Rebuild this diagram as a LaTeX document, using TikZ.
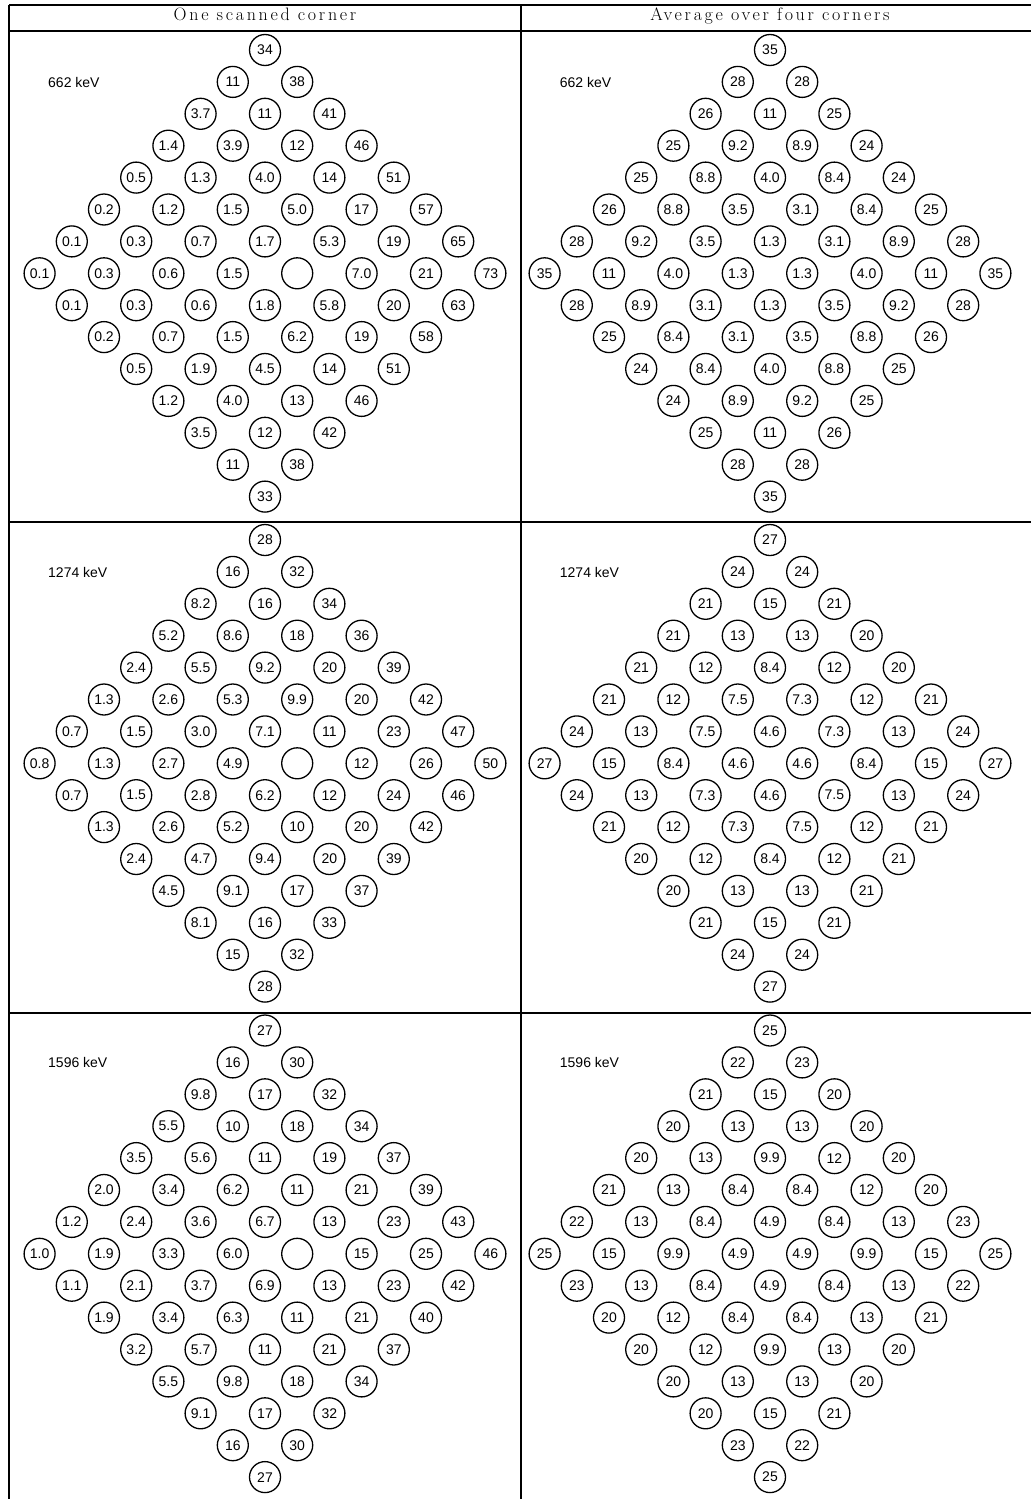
\documentclass[tikz,border=0pt]{standalone}
\usepackage{fontspec}
\setmainfont{Latin Modern Roman}
\newfontfamily\numfont{Liberation Sans}
\newfontfamily\hdrfont[LetterSpace=15]{Latin Modern Roman}
\tikzset{
  dot/.style={circle,draw,line width=1.3pt,minimum size=31pt,inner sep=0pt,
    font=\numfont\fontsize{14}{14}\selectfont},
  rulel/.style={line width=1.6pt},
  lab/.style={anchor=west,inner sep=0pt,font=\numfont\fontsize{14}{14}\selectfont},
  hdr/.style={anchor=base,inner sep=0pt,font=\hdrfont\fontsize{18}{18}\selectfont}
}
\newcommand\drawdiamondcell[4]{%
  \foreach \rw [count=\r] in {#4} {
    \pgfmathtruncatemacro\n{\r<=8 ? \r : 16-\r}
    \foreach \v [count=\c] in \rw {
      \node[dot] (#1-\r-\c) at ({#2+(\c-(\n+1)/2)*64.4},{#3+(\r-1)*31.9}) {\v};
    }
  }%
}
\begin{document}
\begin{tikzpicture}[x=1pt,y=-1pt]
\useasboundingbox (0,0) rectangle (1031,1499);
% table rules
\draw[rulel] (9,5) -- (1031,5);
\draw[rulel] (9,31) -- (1031,31);
\draw[rulel] (9,521.7) -- (1031,521.7);
\draw[rulel] (9,1012.7) -- (1031,1012.7);
\draw[rulel] (9,5) -- (9,1499);
\draw[rulel] (520.7,5) -- (520.7,1499);
% headers
\node[hdr] (h1) at (265,20.7) {One scanned corner};
\node[hdr] (h2) at (770,20.7) {Average over four corners};
% labels
\node[lab] (l1) at (48,82) {662 keV};
\node[lab] (l2) at (48,572) {1274 keV};
\node[lab] (l3) at (48,1062.5) {1596 keV};
\node[lab] (r1) at (559.7,82) {662 keV};
\node[lab] (r2) at (559.7,572) {1274 keV};
\node[lab] (r3) at (559.7,1062.5) {1596 keV};
% left column
\drawdiamondcell{a}{265}{50}{{34},{11,38},{3.7,11,41},{1.4,3.9,12,46},{0.5,1.3,4.0,14,51},
 {0.2,1.2,1.5,5.0,17,57},{0.1,0.3,0.7,1.7,5.3,19,65},{0.1,0.3,0.6,1.5,{},7.0,21,73},
 {0.1,0.3,0.6,1.8,5.8,20,63},{0.2,0.7,1.5,6.2,19,58},{0.5,1.9,4.5,14,51},{1.2,4.0,13,46},
 {3.5,12,42},{11,38},{33}}
\drawdiamondcell{b}{265}{540}{{28},{16,32},{8.2,16,34},{5.2,8.6,18,36},{2.4,5.5,9.2,20,39},
 {1.3,2.6,5.3,9.9,20,42},{0.7,1.5,3.0,7.1,11,23,47},{0.8,1.3,2.7,4.9,{},12,26,50},
 {0.7,1.5,2.8,6.2,12,24,46},{1.3,2.6,5.2,10,20,42},{2.4,4.7,9.4,20,39},{4.5,9.1,17,37},
 {8.1,16,33},{15,32},{28}}
\drawdiamondcell{c}{265}{1030.5}{{27},{16,30},{9.8,17,32},{5.5,10,18,34},{3.5,5.6,11,19,37},
 {2.0,3.4,6.2,11,21,39},{1.2,2.4,3.6,6.7,13,23,43},{1.0,1.9,3.3,6.0,{},15,25,46},
 {1.1,2.1,3.7,6.9,13,23,42},{1.9,3.4,6.3,11,21,40},{3.2,5.7,11,21,37},{5.5,9.8,18,34},
 {9.1,17,32},{16,30},{27}}
% right column
\drawdiamondcell{d}{770}{50}{{35},{28,28},{26,11,25},{25,9.2,8.9,24},{25,8.8,4.0,8.4,24},
 {26,8.8,3.5,3.1,8.4,25},{28,9.2,3.5,1.3,3.1,8.9,28},{35,11,4.0,1.3,1.3,4.0,11,35},
 {28,8.9,3.1,1.3,3.5,9.2,28},{25,8.4,3.1,3.5,8.8,26},{24,8.4,4.0,8.8,25},{24,8.9,9.2,25},
 {25,11,26},{28,28},{35}}
\drawdiamondcell{e}{770}{540}{{27},{24,24},{21,15,21},{21,13,13,20},{21,12,8.4,12,20},
 {21,12,7.5,7.3,12,21},{24,13,7.5,4.6,7.3,13,24},{27,15,8.4,4.6,4.6,8.4,15,27},
 {24,13,7.3,4.6,7.5,13,24},{21,12,7.3,7.5,12,21},{20,12,8.4,12,21},{20,13,13,21},
 {21,15,21},{24,24},{27}}
\drawdiamondcell{f}{770}{1030.5}{{25},{22,23},{21,15,20},{20,13,13,20},{20,13,9.9,12,20},
 {21,13,8.4,8.4,12,20},{22,13,8.4,4.9,8.4,13,23},{25,15,9.9,4.9,4.9,9.9,15,25},
 {23,13,8.4,4.9,8.4,13,22},{20,12,8.4,8.4,13,21},{20,12,9.9,13,20},{20,13,13,20},
 {20,15,21},{23,22},{25}}
\end{tikzpicture}
\end{document}
